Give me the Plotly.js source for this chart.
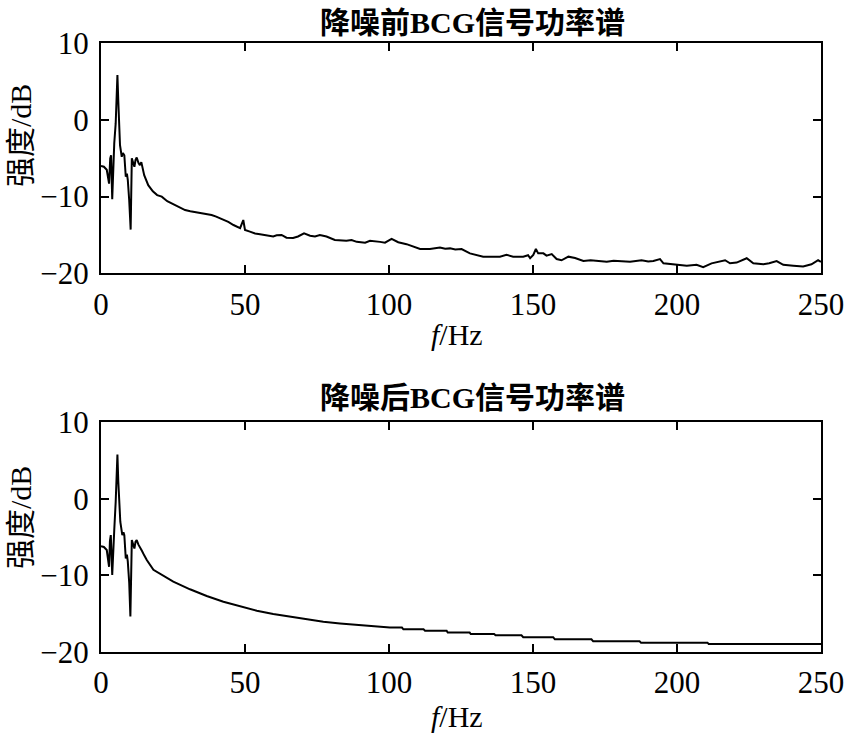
<!DOCTYPE html>
<html>
<head>
<meta charset="utf-8">
<script src="https://cdn.plot.ly/plotly-3.0.1.min.js"></script>
<style>html,body{margin:0;padding:0;background:#fff;}#chart{width:848px;height:733px;}</style>
</head>
<body>
<div id="chart"></div>
<script>
// 降噪前 (before denoising)
const beforeFreq = [0,1,2,2.8,3.2,3.5,3.9,4.3,4.6,5.1,5.4,5.7,6.0,6.25,6.6,7.2,7.6,8.1,8.6,9.0,9.3,9.8,10.3,10.7,11.2,11.6,12.0,12.4,13.0,13.5,14.0,14.5,15.0,16.4,18.0,19.5,21.1,23.0,25.7,28.0,29.2,31.0,33.8,36.0,38.4,40.0,42.0,44.2,46.0,48.3,49.4,50.0,51.7,53.5,55.2,57.5,59.8,61.0,62.7,64.4,66.7,68.4,70.5,72.6,74.3,76.0,78.3,81.2,82.9,85.2,87.0,88.8,91.7,93.4,96.9,98.6,100.9,103.2,106.1,108.4,110.8,114.2,116.0,117.7,119.5,121.2,123.0,125.2,128.1,130.4,132.7,135.0,138.5,140.8,143.1,146.6,148.3,149.0,150.1,151.0,151.8,153.6,154.7,156.5,158.2,159.9,162.3,164.6,167.5,170.0,172.1,175.6,178.0,180.2,183.7,187.7,190.0,191.8,194.1,195.3,199.9,203.4,206.8,209.1,212.0,214.9,216.7,218.4,220.7,224.2,226.5,230.0,232.0,234.6,236.9,240.4,243.8,246.7,249.0,250.0];
const beforeDb = [-6.0,-6.1,-6.5,-8.3,-5.0,-4.6,-10.35,-4.6,-3.05,-0.45,2.0,5.85,2.5,0.0,-3.3,-4.8,-4.3,-4.6,-7.4,-7.0,-7.8,-10.5,-14.3,-5.0,-5.8,-6.1,-5.2,-4.9,-5.6,-5.9,-5.5,-6.6,-7.2,-8.5,-9.3,-9.8,-10.0,-10.6,-11.1,-11.5,-11.75,-11.9,-12.1,-12.2,-12.4,-12.6,-12.9,-13.3,-13.7,-14.1,-13.05,-14.35,-14.57,-14.8,-14.9,-15.1,-15.2,-15.05,-15.0,-15.36,-15.4,-15.2,-14.8,-15.1,-15.2,-15.0,-15.2,-15.65,-15.7,-15.75,-15.65,-15.9,-16.0,-15.75,-15.9,-16.0,-15.5,-15.95,-16.2,-16.5,-16.83,-16.83,-16.7,-16.65,-16.8,-16.75,-16.9,-16.83,-17.4,-17.6,-17.83,-17.85,-17.83,-17.6,-17.83,-17.83,-17.65,-18.04,-17.6,-16.83,-17.4,-17.4,-17.7,-17.5,-18.14,-18.3,-17.83,-18.0,-18.4,-18.3,-18.4,-18.5,-18.35,-18.4,-18.5,-18.3,-18.45,-18.4,-18.14,-18.7,-18.83,-19.0,-18.9,-19.2,-18.7,-18.5,-18.3,-18.7,-18.6,-18.04,-18.7,-18.83,-18.7,-18.4,-18.9,-19.0,-19.1,-18.83,-18.3,-18.5];

// 降噪后 (after denoising)
const afterFreq = [0,1,2,2.8,3.1,3.4,3.9,4.3,4.6,5.1,5.4,5.7,6.0,6.25,6.7,7.4,7.8,8.1,8.6,9.0,9.3,9.8,10.2,10.7,11.2,11.6,12.0,12.4,13.0,13.5,14.2,15.0,15.9,18.2,21.6,25.1,30.9,36.7,42.5,48.3,54.1,59.8,65.6,71.4,77.2,83.0,94.5,100.3,104.5,105.0,112.0,112.5,120.0,120.4,128.0,128.4,136.5,137.0,146.0,146.6,157.0,157.6,170.3,170.9,187.0,187.5,210.6,211.0,250.0];
const afterDb = [-6.2,-6.3,-6.7,-8.9,-5.5,-4.75,-9.95,-5.2,-4.1,-0.4,2.0,5.8,2.3,0.05,-3.0,-4.75,-4.4,-4.75,-7.8,-7.3,-8.2,-11.0,-15.4,-5.4,-6.2,-6.5,-5.6,-5.4,-6.0,-6.3,-6.8,-7.4,-8.0,-9.3,-10.1,-10.85,-11.84,-12.72,-13.46,-14.1,-14.64,-15.07,-15.42,-15.76,-16.08,-16.3,-16.7,-16.85,-16.85,-17.07,-17.07,-17.25,-17.25,-17.5,-17.5,-17.7,-17.7,-17.86,-17.86,-18.1,-18.1,-18.38,-18.38,-18.64,-18.64,-18.82,-18.82,-19.0,-19.0];

const xTicks = [0,50,100,150,200,250];
const yTicks = [-20,-10,0,10];
const titleTop = '降噪前BCG信号功率谱';
const titleBottom = '降噪后BCG信号功率谱';
const yLabel = '强度/dB';
const xLabel = '<i>f</i>/Hz';

const W = 848, H = 733;
const fam = '"Liberation Serif", "Noto Sans CJK SC", serif';
const px = v => v / W;
const py = v => 1 - v / H;

const axisCommon = {
  showline: true, linecolor: '#000', linewidth: 2,
  mirror: 'ticks', ticks: 'inside', ticklen: 8, tickwidth: 2, tickcolor: '#000',
  showgrid: false, zeroline: false,
  tickfont: {family: fam, size: 31, color: '#000'}
};

const ann = (text, x, y, size, angle) => ({
  text: text, x: px(x), y: py(y), xref: 'paper', yref: 'paper',
  xanchor: 'center', yanchor: 'middle', showarrow: false, textangle: angle || 0,
  font: {family: fam, size: size, color: '#000'}
});

const layout = {
  width: W, height: H,
  margin: {l: 0, r: 0, t: 0, b: 0},
  paper_bgcolor: '#fff', plot_bgcolor: '#fff',
  showlegend: false,
  xaxis: Object.assign({}, axisCommon, {domain: [px(101), px(821)], range: [0, 250], tickvals: xTicks, anchor: 'y', ticklabelstandoff: 2}),
  yaxis: Object.assign({}, axisCommon, {domain: [py(273.3), py(43.3)], range: [-20, 10], tickvals: yTicks, anchor: 'x', ticklabelstandoff: 4}),
  xaxis2: Object.assign({}, axisCommon, {domain: [px(101), px(821)], range: [0, 250], tickvals: xTicks, anchor: 'y2', ticklabelstandoff: 2}),
  yaxis2: Object.assign({}, axisCommon, {domain: [py(651.7), py(422.3)], range: [-20, 10], tickvals: yTicks, anchor: 'x2', ticklabelstandoff: 4}),
  annotations: [
    ann('<b>' + titleTop + '</b>', 472, 22, 30),
    ann('<b>' + titleBottom + '</b>', 472, 397, 30),
    ann(yLabel, 20, 136, 30, -90),
    ann(yLabel, 20, 518, 30, -90),
    ann(xLabel, 457, 334, 30),
    ann(xLabel, 457, 716, 30)
  ]
};

const data = [
  {x: beforeFreq, y: beforeDb, xaxis: 'x', yaxis: 'y', type: 'scatter', mode: 'lines', line: {color: '#000', width: 2}},
  {x: afterFreq, y: afterDb, xaxis: 'x2', yaxis: 'y2', type: 'scatter', mode: 'lines', line: {color: '#000', width: 2}}
];

Plotly.newPlot('chart', data, layout, {staticPlot: true, displayModeBar: false});
</script>
</body>
</html>
